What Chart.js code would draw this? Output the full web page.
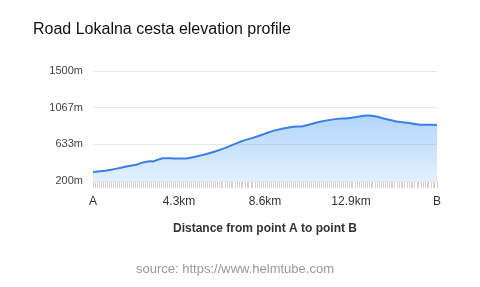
<!DOCTYPE html>
<html>
<head>
<meta charset="utf-8">
<script src="https://cdn.jsdelivr.net/npm/chart.js@4"></script>
<style>
  html, body { margin: 0; padding: 0; background: #fff; }
  #wrap { width: 480px; height: 287px; position: relative; }
</style>
</head>
<body>
<div id="wrap"><canvas id="elevChart"></canvas></div>
<script>
// distance along the road (km) and elevation (m)
const distanceKm = [0, 0.85, 1.5, 2.2, 2.5, 2.85, 3.0, 3.2, 3.5, 3.9, 4.3, 4.75, 5.4, 6.1, 6.75, 7.4, 8.1, 8.6, 9.0, 10.0, 10.5, 11.35, 12.2, 12.6, 13.1, 13.7, 14.1, 14.6, 15.1, 15.75, 16.25, 16.75, 17.2];
const elevationM = [306, 330, 365, 397, 421, 436, 432, 450, 470, 469, 468, 470, 504, 551, 605, 669, 720, 761, 794, 842, 850, 901, 936, 941, 956, 976, 968, 936, 909, 889, 870, 867, 865];

// x tick labels shown at these distances
const xTickValues = [0, 4.3, 8.6, 12.9, 17.2];
const xTickLabels = ["A", "4.3km", "8.6km", "12.9km", "B"];

const yMin = 200, yMax = 1500;
const FONT = "'Liberation Sans', Arial, Helvetica, sans-serif";

const points = distanceKm.map((d, i) => ({ x: d, y: elevationM[i] }));

function areaFill(ctx) {
  const chart = ctx.chart;
  const area = chart.chartArea;
  if (!area) return "rgba(80,160,245,0.35)";
  const g = chart.ctx.createLinearGradient(0, area.top, 0, area.bottom);
  g.addColorStop(0, "rgba(70,155,245,0.6)");
  g.addColorStop(1, "rgba(70,155,245,0.15)");
  return g;
}

new Chart(document.getElementById("elevChart"), {
  type: "line",
  data: {
    datasets: [{
      data: points,
      borderColor: "#3a7fe2",
      borderWidth: 2,
      backgroundColor: areaFill,
      fill: "start",
      tension: 0.3,
      pointRadius: 0,
    }],
  },
  options: {
    responsive: true,
    maintainAspectRatio: false,
    animation: false,
    layout: { padding: { left: 33, right: 43, top: 0, bottom: 8 } },
    plugins: {
      legend: { display: false },
      tooltip: { enabled: false },
      title: {
        display: true,
        text: "Road Lokalna cesta elevation profile",
        align: "start",
        color: "#111",
        font: { family: FONT, size: 16, weight: "normal" },
        padding: { top: 20, bottom: 32 },
      },
      subtitle: {
        display: true,
        position: "bottom",
        text: "source: https://www.helmtube.com",
        color: "#999",
        font: { family: FONT, size: 13, weight: "normal" },
        padding: { top: 26, bottom: 2 },
      },
    },
    scales: {
      x: {
        type: "linear",
        min: 0,
        max: 17.2,
        border: { display: false },
        grid: { drawOnChartArea: false, drawTicks: true, tickLength: 7, color: "#d2d2d2" },
        ticks: {
          stepSize: 0.1,
          autoSkip: false,
          maxRotation: 0,
          minRotation: 0,
          padding: 6,
          color: "#333",
          font: { family: FONT, size: 12 },
          callback: (v) => {
            const i = xTickValues.findIndex((t) => Math.abs(t - v) < 0.01);
            return i >= 0 ? xTickLabels[i] : "";
          },
        },
        title: {
          display: true,
          text: "Distance from point A to point B",
          color: "#333",
          font: { family: FONT, size: 12, weight: "bold" },
          padding: { top: 6.5, bottom: 0 },
        },
      },
      y: {
        min: yMin,
        max: yMax,
        border: { display: false },
        grid: { drawTicks: false, color: "#e6e6e6" },
        afterFit: (s) => { s.width = 60; },
        ticks: {
          stepSize: (yMax - yMin) / 3,
          padding: 10,
          color: "#444",
          font: { family: FONT, size: 11 },
          callback: (v) => Math.round(v) + "m",
        },
      },
    },
  },
});
</script>
</body>
</html>
